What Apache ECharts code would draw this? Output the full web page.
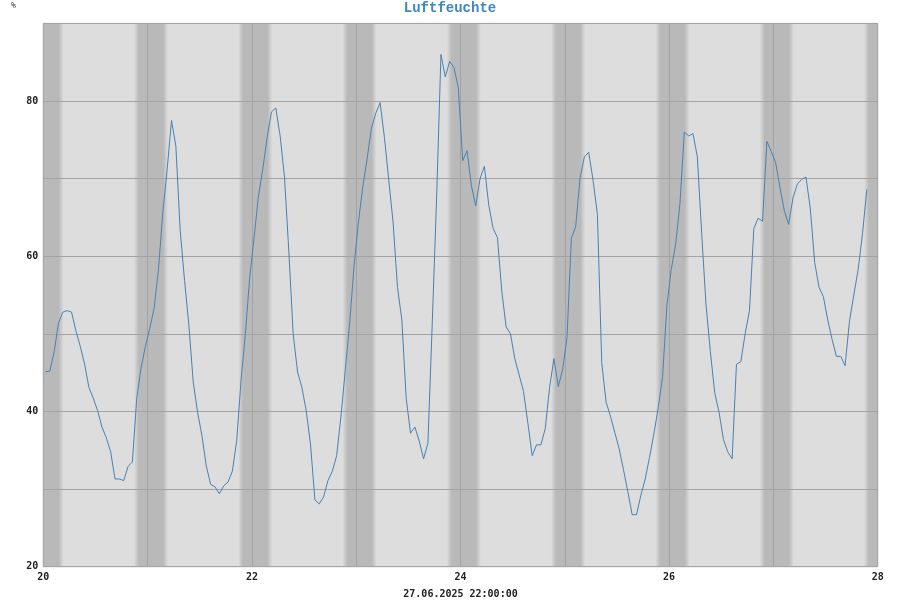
<!DOCTYPE html>
<html>
<head>
<meta charset="utf-8">
<script src="https://cdn.jsdelivr.net/npm/echarts@6/dist/echarts.min.js"></script>
<style>
html,body{margin:0;padding:0;background:#fff;}
#c{width:900px;height:600px;}
</style>
</head>
<body>
<div id="c"></div>
<script>
// Hourly readings, 20.06.2025 00:30 .. 27.06.2025 21:30 (x in days of June)
const startDay = 20;
const humidity = [
  45.1, 45.2, 47.7, 51.4, 52.8, 53.0, 52.8, 50.4, 48.4, 46.1,
  43.1, 41.7, 40.1, 38.0, 36.6, 34.8, 31.3, 31.3, 31.1, 32.9,
  33.5, 41.7, 45.6, 48.4, 50.7, 53.3, 58.3, 65.6, 71.2, 77.5,
  74.2, 63.3, 56.9, 51.1, 43.8, 39.9, 36.9, 33.0, 30.6, 30.3,
  29.4, 30.4, 30.9, 32.3, 36.2, 44.0, 50.0, 57.3, 62.4, 67.7,
  71.2, 75.3, 78.6, 79.1, 75.5, 70.2,
  60.6, 50.0, 45.1, 43.1, 40.1, 35.7, 28.6, 28.1, 29.0, 31.1,
  32.3, 34.3, 39.4, 45.4, 51.4, 58.7, 64.3, 68.9, 72.5, 76.5,
  78.4, 79.8, 75.3, 69.8, 64.3, 56.0, 51.8, 41.7, 37.2, 38.0,
  36.2, 33.9, 35.9, 51.4, 67.5, 86.0, 83.1, 85.1, 84.3, 81.7,
  72.3, 73.6, 69.1, 66.5, 70.0, 71.6, 66.6, 63.6, 62.4, 55.5,
  50.9, 50.0,
  46.8, 44.7, 42.6, 38.5, 34.3, 35.7, 35.7, 37.8, 43.1, 46.8,
  43.2, 45.4, 49.5, 62.3, 63.8, 70.0, 72.8, 73.4, 69.8, 65.4,
  46.3, 41.2, 39.4, 37.3, 35.2, 32.5, 29.7, 26.7, 26.7, 29.2,
  31.3, 34.1, 37.1, 40.5, 44.5, 53.7,
  58.3, 61.5, 66.8, 76.0, 75.5, 75.8, 72.8, 62.9, 53.7, 47.7,
  42.4, 39.9, 36.4, 34.8, 33.9, 46.1, 46.4, 50.0, 53.0, 63.6,
  64.9, 64.5, 74.8, 73.5, 72.1, 68.9, 65.9, 64.1, 67.5, 69.3,
  69.9, 70.2, 66.1, 59.2, 56.0, 54.8, 51.8, 49.3, 47.1, 47.1,
  45.9, 51.6, 55.0, 58.3, 62.9, 68.6
];
// night periods (sunset, sunrise) in days
const nights = [
  [19.87, 20.195], [20.87, 21.195], [21.87, 22.195], [22.87, 23.195],
  [23.87, 24.195], [24.87, 25.195], [25.87, 26.195], [26.87, 27.195],
  [27.87, 28.195]
];
const xTicks = [20, 22, 24, 26, 28];
const yTicks = [20, 40, 60, 80];

const lineData = humidity.map((v, i) => [startDay + (i + 0.5) / 24, v]);

const LIGHT = '#dddddd', DARK = '#b9b9b9';
const chart = echarts.init(document.getElementById('c'), null, {renderer: 'canvas'});
chart.setOption({
  animation: false,
  backgroundColor: '#ffffff',
  title: {
    text: 'Luftfeuchte', left: 'center', top: -4,
    textStyle: {fontFamily: 'Liberation Mono', fontWeight: 'bold', fontSize: 14, color: '#3d86c6'}
  },
  graphic: [
    {type: 'text', left: 11, top: 2, style: {text: '%', font: '8px "DejaVu Sans Mono"', fill: '#333'}}
  ],
  grid: {
    left: 43.3, right: 22.3, top: 23.4, bottom: 33.3,
    outerBoundsMode: 'none', containLabel: false,
    show: true, backgroundColor: LIGHT, borderColor: '#a6a6a6', borderWidth: 1
  },
  xAxis: {
    type: 'value', min: 20, max: 28, interval: 1, z: 3,
    name: '27.06.2025 22:00:00', nameLocation: 'middle', nameGap: 23,
    nameTextStyle: {fontFamily: 'DejaVu Sans Mono', fontWeight: 'bold', fontSize: 10, color: '#222'},
    axisLine: {show: true, lineStyle: {color: '#a6a6a6'}},
    axisTick: {show: false},
    axisLabel: {
      margin: 6, fontFamily: 'DejaVu Sans Mono', fontWeight: 'bold', fontSize: 10, color: '#222',
      formatter: v => xTicks.includes(v) ? String(v) : ''
    },
    splitLine: {show: true, lineStyle: {color: '#a3a3a3', width: 1}}
  },
  yAxis: {
    type: 'value', min: 20, max: 90, interval: 10, z: 3,
    axisLine: {show: true, lineStyle: {color: '#a6a6a6'}},
    axisTick: {show: false},
    axisLabel: {
      margin: 5, fontFamily: 'DejaVu Sans Mono', fontWeight: 'bold', fontSize: 10, color: '#222',
      formatter: v => yTicks.includes(v) ? String(v) : ''
    },
    splitLine: {show: true, lineStyle: {color: '#a3a3a3', width: 1}}
  },
  series: [
    {
      type: 'custom', z: 1, silent: true,
      data: nights,
      encode: {x: [0, 1]},
      renderItem: function (params, api) {
        const p0 = api.coord([api.value(0), 90]);
        const p1 = api.coord([api.value(1), 20]);
        const full = {x: p0[0], y: p0[1], width: p1[0] - p0[0], height: p1[1] - p0[1]};
        const cs = params.coordSys;
        const shape = echarts.graphic.clipRectByRect(full, {x: cs.x, y: cs.y, width: cs.width, height: cs.height});
        if (!shape) return;
        return {
          type: 'rect', shape: shape,
          style: {
            fill: new echarts.graphic.LinearGradient(full.x, 0, full.x + full.width, 0, [
              {offset: 0, color: LIGHT}, {offset: 0.14, color: DARK},
              {offset: 0.86, color: DARK}, {offset: 1, color: LIGHT}
            ], true)
          }
        };
      }
    },
    {
      type: 'line', z: 5, data: lineData, showSymbol: false, symbol: 'none',
      lineStyle: {color: '#4682b4', width: 1}
    }
  ]
});
</script>
</body>
</html>
